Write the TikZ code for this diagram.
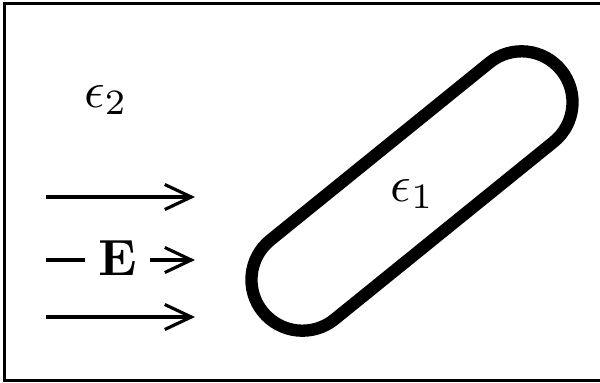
\documentclass[tikz,border=0pt]{standalone}
\usetikzlibrary{arrows.meta,shapes.misc}
\begin{document}
\begin{tikzpicture}[x=0.02cm,y=-0.02cm,
  lbl/.style={inner sep=0pt,scale=2.9,anchor=base},
  field/.style={line width=1.8pt,-{Straight Barb[length=0.53cm,width=0.5cm,line width=1.8pt]}},
  capsule/.style={rounded rectangle,draw,line width=7pt,minimum width=7.68cm,minimum height=2.04cm,inner sep=0pt,rotate=39}]
\useasboundingbox (0,0) rectangle (600,383);
\draw[line width=1.2pt] (4.5,3.5) rectangle (610,380.5);
% labels
\node[lbl] (e2) at (106,107) {$\epsilon_2$};
% capsule
\node[capsule] (body) at (412,191) {};
\node[lbl] (e1) at (412.5,201) {$\epsilon_1$};
% field arrows
\coordinate (a1s) at (46,197);
\coordinate (a1e) at (195,197);
\coordinate (a2s) at (46,260);
\coordinate (a2e) at (195,260);
\coordinate (a3s) at (46,317);
\coordinate (a3e) at (195,317);
\node[lbl,inner xsep=0.086cm] (E) at (117.5,275) {$\mathbf{E}$};
\draw[field] (a1s) -- (a1e);
\draw[line width=1.8pt] (a2s) -- (E.west |- a2s);
\draw[field] (E.east |- a2e) -- (a2e);
\draw[field] (a3s) -- (a3e);
\end{tikzpicture}
\end{document}
